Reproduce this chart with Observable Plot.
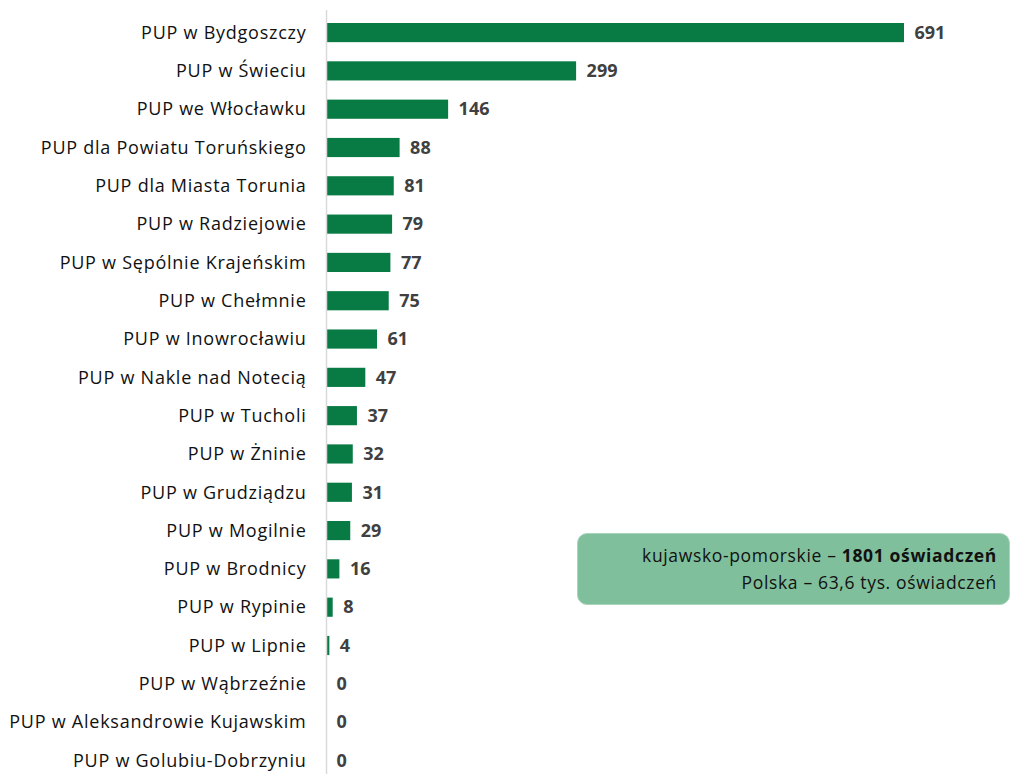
<!DOCTYPE html>
<html><head><meta charset="utf-8">
<script src="https://cdn.jsdelivr.net/npm/d3@7"></script>
<script src="https://cdn.jsdelivr.net/npm/@observablehq/plot@0.6"></script>
<style>
body{margin:0;background:#fff;font-family:"Open Sans",sans-serif;}
#wrap{position:relative;width:1012px;height:774px;}
#chart g[aria-label="y-axis tick label"] text{letter-spacing:0.75px;}
#note{position:absolute;left:577px;top:533px;width:433px;height:72px;box-sizing:border-box;background:#80bf9c;border:1px solid #a9d5bc;border-radius:10px;text-align:right;padding:8px 12px 0 0;font-size:17.5px;letter-spacing:0.65px;line-height:27px;color:#111;}
</style></head>
<body><div id="wrap"><div id="chart"></div>
<div id="note">kujawsko-pomorskie – <b>1801 oświadczeń</b><br>Polska – 63,6 tys. oświadczeń</div></div>
<script>
const offices = ["PUP w Bydgoszczy","PUP w Świeciu","PUP we Włocławku","PUP dla Powiatu Toruńskiego","PUP dla Miasta Torunia","PUP w Radziejowie","PUP w Sępólnie Krajeńskim","PUP w Chełmnie","PUP w Inowrocławiu","PUP w Nakle nad Notecią","PUP w Tucholi","PUP w Żninie","PUP w Grudziądzu","PUP w Mogilnie","PUP w Brodnicy","PUP w Rypinie","PUP w Lipnie","PUP w Wąbrzeźnie","PUP w Aleksandrowie Kujawskim","PUP w Golubiu-Dobrzyniu"];
const counts = [691,299,146,88,81,79,77,75,61,47,37,32,31,29,16,8,4,0,0,0];
const data = offices.map((o,i)=>({office:o, value:counts[i]}));

const chart = Plot.plot({
  width:1012, height:774,
  marginLeft:326, marginRight:108, marginTop:23, marginBottom:4,
  style:{fontFamily:"'Open Sans', sans-serif"},
  x:{domain:[0,691], axis:null},
  y:{domain:offices, paddingInner:0.5, paddingOuter:0, round:false, label:null},
  marks:[
    Plot.barX(data,{y:"office", x:"value", fill:"#077b43"}),
    Plot.ruleX([0],{stroke:"#d9d9d9", strokeWidth:1.5, insetTop:-13, insetBottom:-4}),
    Plot.axisY({tickSize:0, tickPadding:20, fontSize:18, fill:"#111", label:null}),
    Plot.text(data,{y:"office", x:"value", text:d=>String(d.value), dx:10, textAnchor:"start", fontWeight:"bold", fontSize:18, fill:"#404040"})
  ]
});
document.getElementById("chart").appendChild(chart);
</script>
</body></html>
